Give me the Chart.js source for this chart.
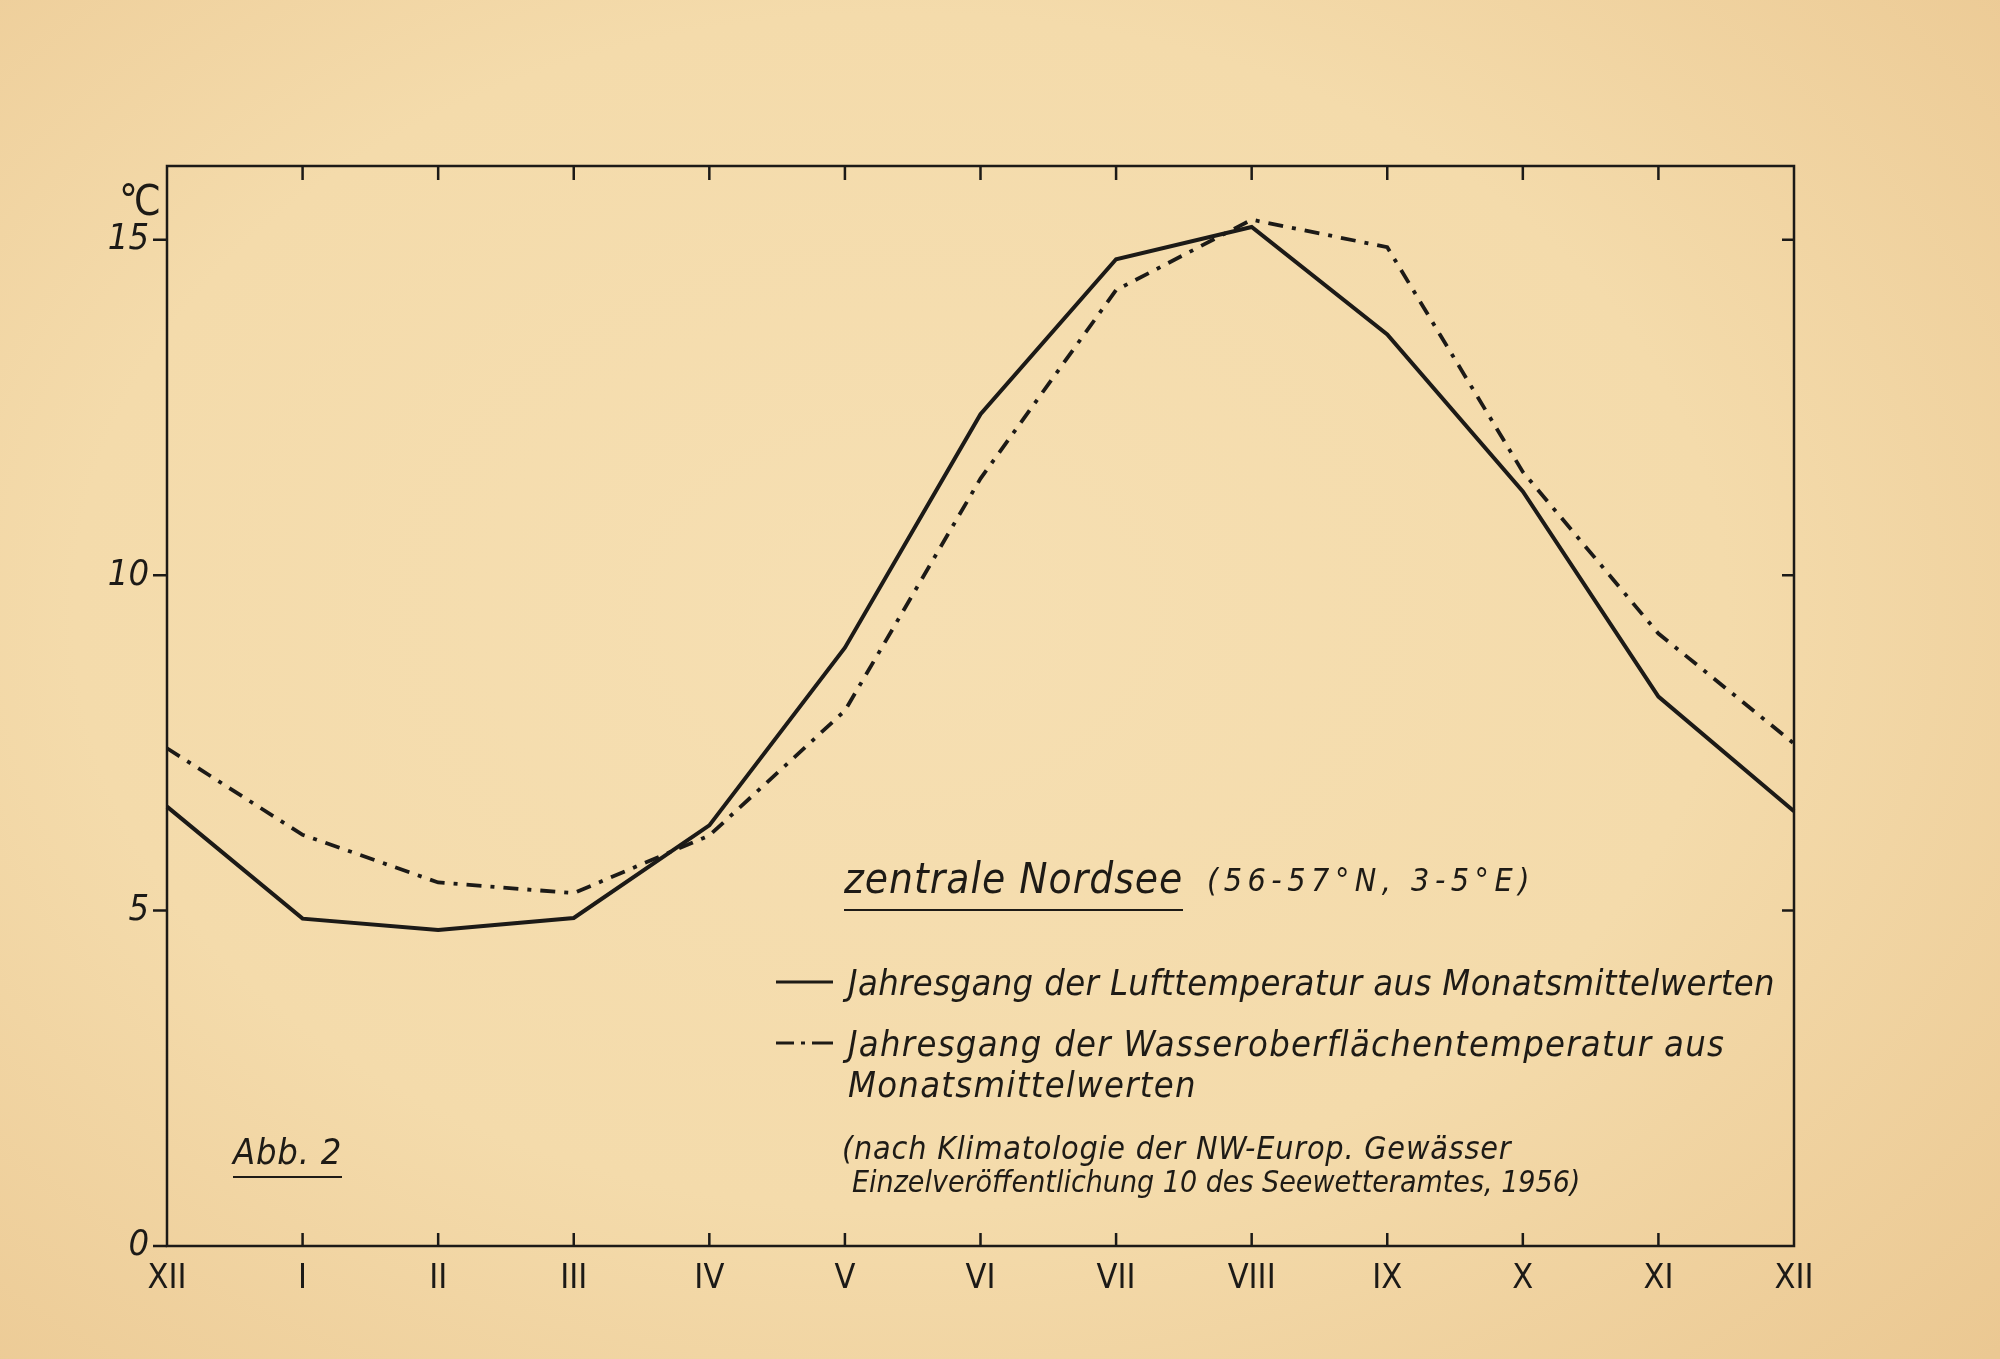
<!DOCTYPE html>
<html><head><meta charset="utf-8">
<script src="https://cdn.jsdelivr.net/npm/chart.js@4"></script>
<style>
html,body{margin:0;padding:0;}
body{width:2000px;height:1359px;position:relative;overflow:hidden;
background: radial-gradient(ellipse 75% 80% at 45% 45%, #f6dfb2 0%, #f4dbab 55%, #ebc892 100%);}
#c{position:absolute;left:0;top:0;}
.t{position:absolute;font-family:'Liberation Sans Narrow','DejaVu Sans Condensed','DejaVu Sans',sans-serif;font-style:italic;color:#1e1b16;white-space:nowrap;line-height:1;}
.u{border-bottom:2.5px solid #1e1b16;padding-bottom:6px;}
</style></head>
<body>
<canvas id="c" width="2000" height="1359"></canvas>
<div class="t" style="left:119px;top:180px;font-size:42px;font-style:normal;letter-spacing:-4px">°C</div>
<div class="t" style="left:844px;top:858px;font-size:42px;letter-spacing:1px"><span class="u">zentrale Nordsee</span></div>
<div class="t" style="left:1207px;top:864px;font-size:32px;letter-spacing:5.5px">(56-57°N, 3-5°E)</div>
<svg style="position:absolute;left:770px;top:970px" width="70" height="90">
  <line x1="6" y1="12" x2="63" y2="12" stroke="#1e1b16" stroke-width="3"/>
  <line x1="6" y1="73" x2="24" y2="73" stroke="#1e1b16" stroke-width="3"/>
  <line x1="31" y1="73" x2="35" y2="73" stroke="#1e1b16" stroke-width="3"/>
  <line x1="42" y1="73" x2="63" y2="73" stroke="#1e1b16" stroke-width="3"/>
</svg>
<div class="t" style="left:848px;top:965px;font-size:36px;letter-spacing:0.4px">Jahresgang&nbsp;der Lufttemperatur aus Monatsmittelwerten</div>
<div class="t" style="left:848px;top:1026px;font-size:36px;letter-spacing:1.3px">Jahresgang der Wasseroberflächentemperatur aus</div>
<div class="t" style="left:848px;top:1067px;font-size:36px;letter-spacing:1.3px">Monatsmittelwerten</div>
<div class="t" style="left:842px;top:1132px;font-size:32px;letter-spacing:0.8px">(nach Klimatologie der NW-Europ. Gewässer</div>
<div class="t" style="left:852px;top:1167px;font-size:30px;letter-spacing:0px">Einzelveröffentlichung 10 des Seewetteramtes, 1956)</div>
<div class="t" style="left:233px;top:1134px;font-size:36px;letter-spacing:0.8px"><span class="u" style="padding-bottom:4px">Abb. 2</span></div>
<script>
const months = ['XII','I','II','III','IV','V','VI','VII','VIII','IX','X','XI','XII'];
const airTemp = [6.55, 4.88, 4.71, 4.89, 6.27, 8.92, 12.40, 14.71, 15.19, 13.59, 11.25, 8.19, 6.48];
const waterTemp = [7.42, 6.13, 5.42, 5.26, 6.12, 7.98, 11.44, 14.25, 15.30, 14.89, 11.54, 9.13, 7.49];
const yTickValues = [0, 5, 10, 15];
const rightTickValues = [5, 10, 15];

const ink = '#1c1a17';
const fam = "'Liberation Sans Narrow','DejaVu Sans Condensed','DejaVu Sans',sans-serif";

const framePlugin = {
  id: 'frame',
  afterDraw(chart) {
    const {ctx, chartArea: a, scales: {x, y}} = chart;
    ctx.save();
    ctx.strokeStyle = ink;
    ctx.lineWidth = 2.5;
    ctx.strokeRect(a.left, a.top, a.right - a.left, a.bottom - a.top);
    ctx.beginPath();
    for (let i = 1; i < months.length - 1; i++) {
      const px = x.getPixelForValue(i);
      ctx.moveTo(px, a.top); ctx.lineTo(px, a.top + 14);
      ctx.moveTo(px, a.bottom); ctx.lineTo(px, a.bottom - 13);
    }
    rightTickValues.forEach(v => {
      const py = y.getPixelForValue(v);
      ctx.moveTo(a.right, py); ctx.lineTo(a.right - 12, py);
    });
    yTickValues.forEach(v => {
      const py = y.getPixelForValue(v);
      ctx.moveTo(a.left, py); ctx.lineTo(a.left - 14, py);
    });
    ctx.stroke();
    ctx.restore();
  }
};

new Chart(document.getElementById('c'), {
  type: 'line',
  data: {
    labels: months,
    datasets: [
      {label: 'Lufttemperatur', data: airTemp, borderColor: ink, borderWidth: 4, pointRadius: 0, tension: 0, fill: false},
      {label: 'Wasseroberflächentemperatur', data: waterTemp, borderColor: ink, borderWidth: 3.8, borderDash: [15, 9, 4, 9], pointRadius: 0, tension: 0, fill: false}
    ]
  },
  options: {
    responsive: false,
    animation: false,
    layout: {padding: {top: 166, right: 206, left: 0, bottom: 0}},
    plugins: {legend: {display: false}, tooltip: {enabled: false}},
    scales: {
      x: {
        type: 'category', offset: false,
        grid: {display: false}, border: {display: false},
        ticks: {color: ink, font: {family: fam, size: 34}, padding: 5, maxRotation: 0, autoSkip: false},
        afterFit(s) { s.height = 113; }
      },
      y: {
        min: 0, max: 16.1,
        afterBuildTicks(s) { s.ticks = yTickValues.map(v => ({value: v})); },
        grid: {display: false}, border: {display: false},
        ticks: {color: ink, font: {family: fam, size: 36, style: 'italic'}, padding: 10},
        afterFit(s) { s.width = 167; }
      }
    }
  },
  plugins: [framePlugin]
});
</script>
</body></html>
